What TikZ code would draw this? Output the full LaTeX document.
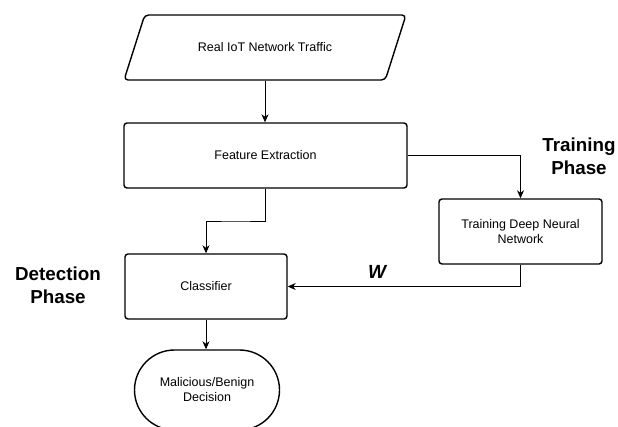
\documentclass[tikz,border=0pt]{standalone}
\usepackage{fontspec}
\setmainfont{Liberation Sans}
\usetikzlibrary{arrows.meta,shapes.geometric,calc}

\tikzset{
  box/.style={draw, line width=1.4pt, rounded corners=3pt, fill=white,
    minimum height=65pt, align=center, inner sep=2pt,
    font=\fontsize{12.5}{15}\selectfont},
  iobox/.style={box, shape=trapezium, trapezium left angle=48,
    trapezium right angle=132, trapezium stretches=true,
    rounded corners=4pt},
  termbox/.style={box, rounded corners=40pt},
  link/.style={draw, line width=0.9pt, -{Stealth[length=8pt,width=7pt,inset=2.5pt]}},
  phase/.style={font=\bfseries\fontsize{18.8}{23}\selectfont, align=center},
  weight/.style={font=\bfseries\itshape\fontsize{19}{22}\selectfont}
}

\begin{document}
\begin{tikzpicture}[x=1pt,y=-1pt]
  \useasboundingbox (0,0) rectangle (618,426);

  % process nodes
  \node[iobox, minimum width=282pt] (traffic) at (265,47.5) {Real IoT Network Traffic};
  \node[box, minimum width=283pt] (feat) at (265.5,155.5) {Feature Extraction};
  \node[box, minimum width=163pt] (train) at (520.5,231.5) {Training Deep Neural\\Network};
  \node[box, minimum width=162pt] (clf) at (206,286.5) {Classifier};
  \node[termbox, minimum width=145pt, minimum height=80pt] (dec) at (207,390) {Malicious/Benign\\Decision};

  % phase captions
  \node[phase] (trainphase) at (579,156) {Training\\Phase};
  \node[phase] (detphase) at (58,285) {Detection\\Phase};
  \node[weight] (w) at (377,272) {W};

  % connectors
  \draw[link] (traffic.south) -- (traffic.south |- feat.north);
  \draw[link] (feat.south) |- ($(feat.south)!0.5!(clf.north)$) -| (clf.north);
  \draw[link] (feat.east) -| (train.north);
  \draw[link] (train.south) |- (clf.east);
  \draw[link] (clf.south) -- (clf.south |- dec.north);
\end{tikzpicture}
\end{document}
